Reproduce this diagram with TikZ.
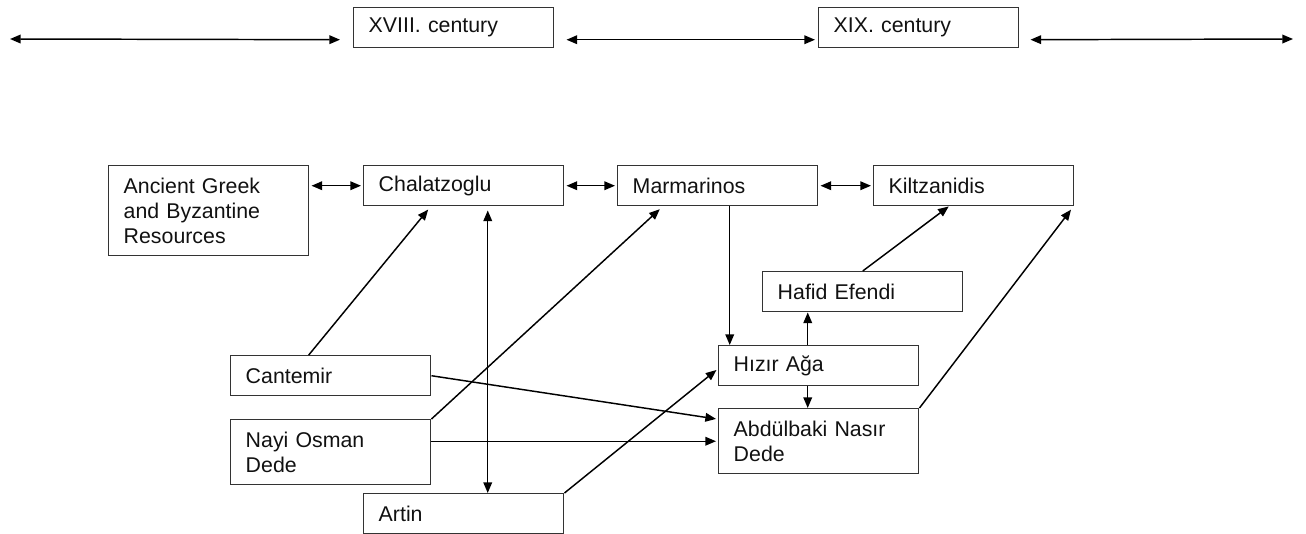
\documentclass[tikz,border=0pt]{standalone}
\usepackage{fontspec}
\setmainfont{Liberation Sans}
\usetikzlibrary{arrows.meta, calc}
\definecolor{cline}{HTML}{333333}
\definecolor{ctext}{HTML}{111111}
\tikzset{
  every picture/.style={line width=1.1pt},
  box/.style={draw=cline, rectangle, anchor=north west, align=left, text width=127.5pt, inner xsep=11.25pt, inner ysep=0pt, minimum width=150pt, minimum height=30pt, text=ctext, font=\fontsize{16pt}{18.75pt}\selectfont},
  arrow/.style={-{Triangle[length=8pt, width=6.5pt]}, draw=black, line width=1.1pt, shorten >=1.5pt},
  twoway/.style={arrow, {Triangle[length=8pt, width=6.5pt]}-{Triangle[length=8pt, width=6.5pt]}, shorten <=1.5pt},
}

\begin{document}
\begin{tikzpicture}[x=0.75pt, y=-0.75pt,
  tall/.style={box, minimum height=48.75pt},
  taller/.style={box, minimum height=67.5pt}]
  \useasboundingbox (0,0) rectangle (1306,534);
  % centuries
  \node[box] (xviii) at (353,7) {XVIII. century};
  \node[box] (xix) at (818,7) {XIX. century};
  \coordinate (tl) at (10,39);
  \coordinate (tr) at (1293,39);
  \draw[twoway, shorten >=9.75pt, shorten <=0pt] (tl) -- ($(xviii.west)+(0,12)$);
  \draw[twoway, shorten <=9pt, shorten >=2.25pt] ($(xviii.east)+(0,12)$) -- ($(xix.west)+(0,12)$);
  \draw[twoway, shorten <=8.25pt, shorten >=0pt] ($(xix.east)+(0,12)$) -- (tr);
  % musicians
  \node[taller] (anc) at (108,165) {Ancient Greek\\and Byzantine\\Resources};
  \node[box] (chal) at (363,165) {Chalatzoglu};
  \node[box] (marm) at (617,165) {Marmarinos};
  \node[box] (kiltz) at (873,165) {Kiltzanidis};
  \node[box] (hafid) at (762,271) {Hafid Efendi};
  \node[box] (hizir) at (718,345) {Hızır Ağa};
  \node[box] (cantemir) at (230,355) {Cantemir};
  \node[tall] (abdul) at (718,408) {Abdülbaki Nasır\\Dede};
  \node[tall] (nayi) at (230,419) {Nayi Osman\\Dede};
  \node[box] (artin) at (363,493) {Artin};
  % links
  \draw[twoway] (chal.west -| anc.east) -- (chal.west);
  \draw[twoway] (chal.east) -- (marm.west);
  \draw[twoway] (marm.east) -- (kiltz.west);
  \draw[twoway, shorten <=3pt, shorten >=0pt] ($(chal.south)+(24,0)$) -- ($(artin.north)+(24,0)$);
  \draw[arrow, shorten >=3pt] ($(cantemir.north)+(-22,0)$) -- ($(chal.south)+(-33,0)$);
  \draw[arrow, shorten >=3pt] (nayi.north east) -- ($(marm.south)+(-55,0)$);
  \draw[arrow, shorten >=0pt] ($(marm.south)+(12,0)$) -- ($(hizir.north)+(-89,0)$);
  \draw[arrow, shorten >=0pt] ($(hizir.north)+(-11,0)$) -- ($(hafid.south)+(-55,0)$);
  \draw[arrow, shorten >=0pt] (hafid.north) -- ($(kiltz.south)+(-25,0)$);
  \draw[arrow, shorten >=3pt] (abdul.north east) -- ($(kiltz.south east)+(-1,0)$);
  \draw[arrow, shorten >=0pt] ($(hizir.south)+(-11,0)$) -- ($(abdul.north)+(-11,0)$);
  \draw[arrow] (cantemir.east) -- ($(abdul.west)+(0,-22)$);
  \draw[arrow] (abdul.west -| nayi.east) -- (abdul.west);
  \draw[arrow] (artin.north east) -- ($(hizir.west)+(0,3)$);
\end{tikzpicture}
\end{document}
